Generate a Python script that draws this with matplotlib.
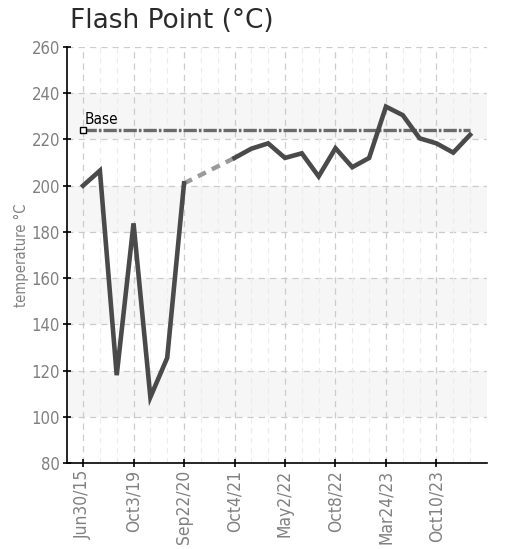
import numpy as np
import matplotlib
matplotlib.use("Agg")
import matplotlib.pyplot as plt

# flash point readings, one per sample (NaN = no reading)
values = [200, 206.5, 118, 183.7, 108.5, 125.5, 201,
          np.nan, np.nan,
          212, 216, 218.3, 212, 214, 204, 216.2, 208, 212,
          234.2, 230.5, 220.5, 218.3, 214.3, 222]
tick_pos = [0, 3, 6, 9, 12, 15, 18, 21]
tick_labels = ['Jun30/15', 'Oct3/19', 'Sep22/20', 'Oct4/21', 'May2/22',
               'Oct8/22', 'Mar24/23', 'Oct10/23']
base_value = 224
y_ticks = [80, 100, 120, 140, 160, 180, 200, 220, 240, 260]

narrow = dict(family='DejaVu Sans', stretch='condensed')

x = np.arange(len(values))
vals = np.array(values, dtype=float)

fig = plt.figure(figsize=[5.12, 5.49], dpi=100)
ax = fig.add_axes([0.131, 0.1566, 0.820, 0.7578])

# alternating bands
for lo in [100, 140, 180, 220]:
    ax.axhspan(lo, lo + 20, color='#f6f6f6', zorder=0, lw=0)

# grid
for yv in y_ticks[1:]:
    ax.axhline(yv, color='#cccccc', lw=0.9, ls=(0, (5, 4)), zorder=1)
for xi in x:
    if xi in tick_pos:
        ax.axvline(xi, color='#cccccc', lw=0.9, ls=(0, (5, 4)), zorder=1)
    else:
        ax.axvline(xi, color='#ececec', lw=0.8, ls=(0, (5, 4)), zorder=1)

# base line
ax.plot([0, len(values) - 1], [base_value, base_value], color='#6a6a6a', lw=2.4,
        ls=(0, (4, 0.6, 0.8, 0.6)), zorder=3)
ax.plot([0], [base_value], marker='s', ms=5, mfc='white', mec='black', mew=1.0,
        zorder=5, ls='none')
ax.text(0.1, base_value + 2.5, 'Base', fontsize=11, color='black',
        zorder=6, **narrow)

# gap across missing readings
valid = np.where(~np.isnan(vals))[0]
for a, b in zip(valid[:-1], valid[1:]):
    if b - a > 1:
        ax.plot([x[a], x[b]], [vals[a], vals[b]], color='#9a9a9a', lw=3.2,
                ls=(0, (2, 1.5)), zorder=4)

ax.plot(x, vals, color='#4a4a4a', lw=3.3, solid_joinstyle='miter', zorder=4)

ax.set_xlim(-0.95, 24.0)
ax.set_ylim(80, 260)
ax.set_yticks(y_ticks)
ax.set_xticks(tick_pos)
ax.set_xticklabels(tick_labels, rotation=90, fontsize=12.5,
                   color='#808080', **narrow)
ax.set_yticklabels([str(v) for v in y_ticks], fontsize=12,
                   color='#808080', **narrow)
ax.tick_params(axis='both', direction='inout', length=6, width=1.2,
               color='black', pad=2)

for s in ['top', 'right']:
    ax.spines[s].set_visible(False)
ax.spines['left'].set_linewidth(1.2)
ax.spines['bottom'].set_linewidth(1.2)

ax.set_ylabel('temperature °C', fontsize=10.5, color='#808080',
              labelpad=2, **narrow)
fig.text(0.137, 0.962, 'Flash Point (°C)', fontsize=19, color='#2a2a2a',
         ha='left', va='center')

fig.savefig('out.png', dpi=100)
